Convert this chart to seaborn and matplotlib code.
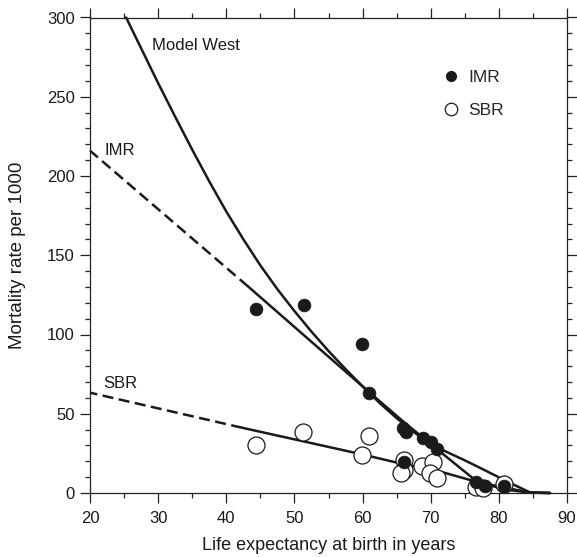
import numpy as np
import pandas as pd
import matplotlib
matplotlib.use("Agg")
import matplotlib.pyplot as plt
import seaborn as sns
from matplotlib.ticker import MultipleLocator
from matplotlib.lines import Line2D

# ---- observed points ----
imr_x = [44.3, 51.4, 59.9, 61.0, 66.0, 66.3, 68.8, 70.1, 70.9, 66.1, 76.7, 78.0, 80.7]
imr_y = [115.9, 118.3, 93.8, 62.9, 40.8, 38.3, 34.9, 32.0, 27.8, 19.6, 7.1, 4.4, 4.4]
sbr_x = [44.4, 51.3, 59.9, 61.0, 66.1, 66.1, 65.7, 68.7, 70.4, 69.9, 70.9, 76.7, 77.7, 80.7]
sbr_y = [30.3, 38.7, 24.0, 36.2, 20.8, 14.5, 12.4, 17.0, 19.7, 12.8, 9.3, 4.0, 3.0, 5.7]

# ---- curves ----
west_x = [25.3, 27.5, 30.0, 32.5, 35.0, 37.5, 40.0, 42.5, 45.0, 47.5, 50.0, 52.5,
          55.0, 57.5, 60.0, 62.5, 65.0, 67.5, 70.0, 72.5, 75.0, 77.5, 80.0, 82.5,
          84.6, 87.5]
west_y = [300, 280.6, 258.6, 237.4, 216.6, 196.6, 177.6, 160.1, 143.6, 128.6, 114.8,
          101.8, 89.6, 78.2, 67.3, 56.8, 47.2, 38.5, 30.8, 25.6, 20.6, 15.3, 9.9,
          4.6, 0.3, 0.0]
imr_dash_x = [43.2, 20.0]
imr_dash_y = [130.3, 216.0]
imr_fit_x = [43.2, 60.6, 66.0, 71.4, 76.7, 80.7, 84.6, 87.5]
imr_fit_y = [130.3, 65.0, 45.0, 26.0, 7.5, 2.3, 0.2, 0.0]
sbr_dash_x = [42.3, 20.0]
sbr_dash_y = [41.2, 63.3]
sbr_fit_x = [42.3, 59.9, 65.5, 71.4, 76.7, 80.7, 84.6, 87.5]
sbr_fit_y = [41.2, 24.4, 18.7, 13.5, 7.1, 3.5, 0.3, 0.0]

sns.set_theme(style="ticks")
plt.rcParams['font.family'] = ['Liberation Sans', 'DejaVu Sans']

fig = plt.figure(figsize=(5.77, 5.57), dpi=100)
ax = fig.add_axes([90/577, 1-493/557, (567-90)/577, (493-17.5)/557])

ink = "#1a1a1a"
lw = 1.8
def line(x, y, dashed=False):
    df = pd.DataFrame({"x": x, "y": y})
    sns.lineplot(data=df, x="x", y="y", ax=ax, color=ink, lw=lw,
                 sort=False, estimator=None, clip_on=False,
                 dashes=False, zorder=2)
    ln = ax.lines[-1]
    ln.set_solid_joinstyle("round")
    if dashed:
        ln.set_dashes((4.4, 2.2))
        ln.set_dash_capstyle("butt")

line(west_x, west_y)
line(imr_dash_x, imr_dash_y, dashed=True)
line(imr_fit_x, imr_fit_y)
line(sbr_dash_x, sbr_dash_y, dashed=True)
line(sbr_fit_x, sbr_fit_y)

sns.scatterplot(x=sbr_x, y=sbr_y, ax=ax, marker="o", s=150, facecolor="white",
                edgecolor=ink, linewidth=0.9, zorder=3, clip_on=False)
sns.scatterplot(x=imr_x, y=imr_y, ax=ax, marker="o", s=85, color=ink,
                edgecolor=ink, linewidth=0.5, zorder=4, clip_on=False)

ax.set_xlim(20, 90)
ax.set_ylim(0, 300)
ax.xaxis.set_major_locator(MultipleLocator(10))
ax.xaxis.set_minor_locator(MultipleLocator(5))
ax.yaxis.set_major_locator(MultipleLocator(50))
ax.yaxis.set_minor_locator(MultipleLocator(10))
ax.tick_params(which="both", direction="out", top=True, right=True,
               color="#222222", width=0.9, labelsize=12, labelcolor=ink)
ax.tick_params(which="major", length=7, pad=4)
ax.tick_params(axis="x", which="major", pad=6)
ax.tick_params(which="minor", length=3.5)
for sp in ax.spines.values():
    sp.set_visible(True)
    sp.set_linewidth(0.9)
    sp.set_color("#222222")

ax.set_xlabel("Life expectancy at birth in years", fontsize=13, color=ink, labelpad=8)
ax.set_ylabel("Mortality rate per 1000", fontsize=13.5, color=ink, labelpad=15)

ax.text(29.1, 282.6, "Model West", fontsize=12, va="center", ha="left", color=ink)
ax.text(22.2, 215.8, "IMR", fontsize=12, va="center", ha="left", color=ink)
ax.text(21.9, 69, "SBR", fontsize=12, va="center", ha="left", color=ink)

handles = [Line2D([], [], marker="o", ls="", color=ink, markersize=7),
           Line2D([], [], marker="o", ls="", markerfacecolor="white",
                  markeredgecolor=ink, markeredgewidth=0.9, markersize=9)]
ax.legend(handles, ["IMR", "SBR"], loc="upper left", bbox_to_anchor=(0.705, 0.922),
          frameon=False, fontsize=12.5, handletextpad=0.5, labelspacing=1.0,
          handlelength=1.0)

fig.savefig("out.png", dpi=100)
